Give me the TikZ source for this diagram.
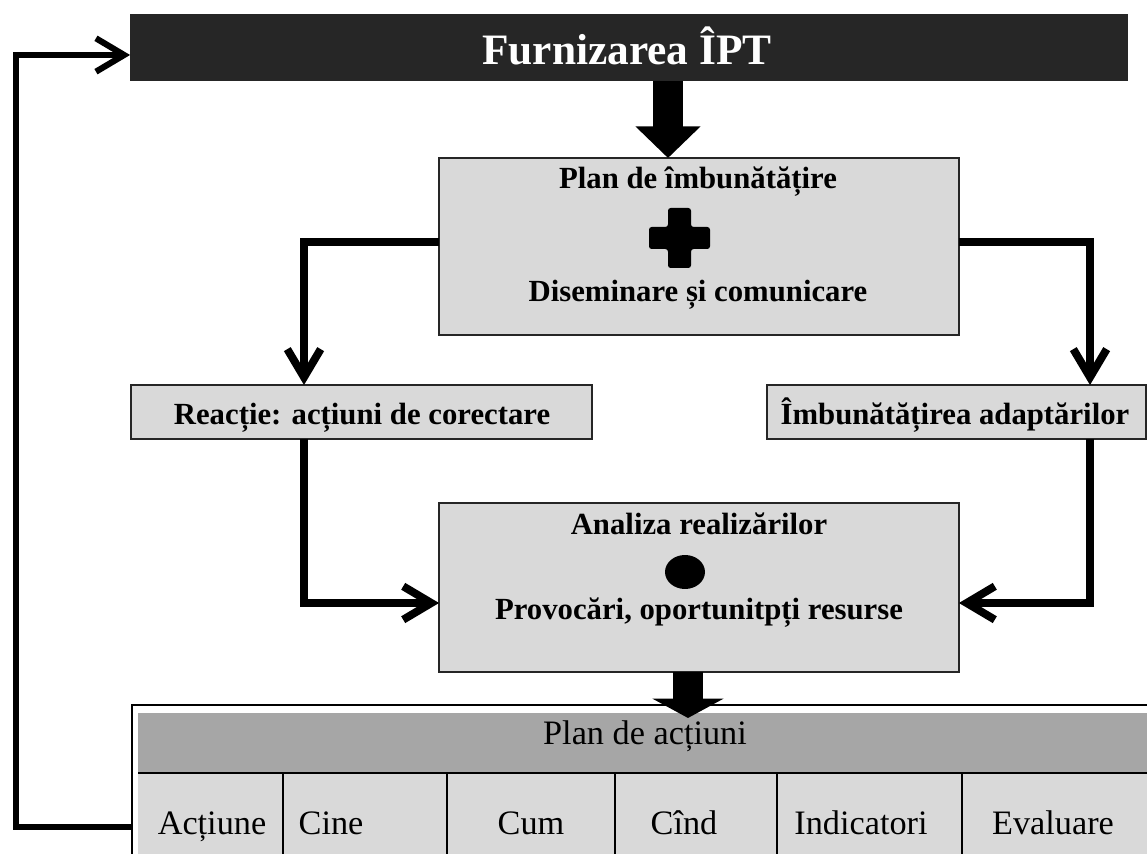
\documentclass[tikz,border=0pt]{standalone}
\usepackage{fontspec}
\setmainfont{Liberation Serif}
\usepackage{xcolor}
\usetikzlibrary{calc,positioning,arrows.meta}

\definecolor{boxgray}{HTML}{D9D9D9}
\definecolor{headgray}{HTML}{A6A6A6}
\definecolor{bardark}{HTML}{262626}

\newcommand{\boxfnt}{\fontsize{17.5}{21}\selectfont\bfseries}
\newcommand{\cellfnt}{\fontsize{19.5}{23}\selectfont}

\tikzset{
  box/.style={draw=black!85, line width=0.8pt, fill=boxgray, inner sep=0pt, outer sep=0pt},
  btext/.style={font=\boxfnt, inner sep=0pt, anchor=base},
  ctext/.style={font=\cellfnt, inner sep=0pt, anchor=base},
  conn/.style={line width=4.5pt, -{Straight Barb[length=16pt,width=19pt]}},
  blockarrow/.style={line width=17.6pt, -{Triangle[length=18pt,width=36pt]}},
}

\begin{document}
\begin{tikzpicture}[x=0.02cm,y=-0.02cm]
\useasboundingbox (0,0) rectangle (1147,854);

%Top bar
\node[fill=bardark, minimum width=19.96cm, minimum height=1.34cm, inner sep=0pt, outer sep=0pt] (bar) at (629,47.5) {};
\node[font=\fontsize{24.7}{28}\selectfont\bfseries, text=white, anchor=base, inner sep=0pt] (barText) at (627,65) {Furnizarea ÎPT};

%Boxes
\node[box, minimum width=10.4cm, minimum height=3.54cm] (plan) at (699,246.5) {};
\node[btext] (planTop) at (698,189) {Plan de îmbunătățire};
\node[btext] (planBot) at (698,302) {Diseminare și comunicare};
\fill[rounded corners=1.5pt] (668,208) -- (691,208) -- (691,227) -- (710,227) -- (710,249) -- (691,249)
  -- (691,268) -- (668,268) -- (668,249) -- (649,249) -- (649,227) -- (668,227) -- cycle;

\node[box, minimum width=9.22cm, minimum height=1.08cm] (react) at (361.5,412) {};
\node[btext] (reactText) at (362,425) {Reacție: acțiuni de corectare};
\node[box, minimum width=7.58cm, minimum height=1.08cm] (adapt) at (956.5,412) {};
\node[btext] (adaptText) at (955,425) {Îmbunătățirea adaptărilor};

\node[box, minimum width=10.4cm, minimum height=3.38cm] (anal) at (699,587.5) {};
\node[btext] (analTop) at (699,535) {Analiza realizărilor};
\fill (685,572) ellipse (0.4cm and 0.34cm);
\node[btext] (analBot) at (699,620) {Provocări, oportunitpți resurse};

%Table
\node[draw, line width=1pt, minimum width=20.4cm, minimum height=3.5cm, inner sep=0pt, outer sep=0pt, anchor=north west] (tbl) at (132,705) {};
\node[fill=headgray, minimum width=20.18cm, minimum height=1.2cm, inner sep=0pt, outer sep=0pt, anchor=north west] (hdr) at (138,713) {};
\fill[boxgray] (138,773) rectangle (1147,860);
\draw[line width=0.8pt] (138,773) -- (1147,773);
\foreach \cx in {283,447,615,777,962}
  \draw[line width=0.8pt] (\cx,773) -- (\cx,860);
\node[ctext] (hdrText) at (645,745) {Plan de acțiuni};
\foreach \name/\cx/\txt in {c1/212/Acțiune, c2/331/Cine, c3/531/Cum, c4/684/Cînd, c5/861/Indicatori, c6/1053/Evaluare}
  \node[ctext] (\name) at (\cx,835) {\txt};

%Connectors
\coordinate (lx) at (304,0);
\coordinate (rx) at (1090,0);
\coordinate (fy) at (0,242);
\coordinate (ly) at (0,603);
\draw[conn] (plan.west |- fy) -| (react.north -| lx);
\draw[conn] (plan.east |- fy) -| (adapt.north -| rx);
\draw[conn] (react.south -| lx) |- (anal.west |- ly);
\draw[conn] (adapt.south -| rx) |- (anal.east |- ly);

%Block arrows
\coordinate (tx) at (668,0);
\coordinate (bx) at (688,0);
\draw[blockarrow] (bar.south -| tx) -- (plan.north -| tx);
\path (hdr.north -| bx) ++(0,5) coordinate (bt);
\draw[blockarrow, -{Triangle[length=11pt,width=40pt]}] (anal.south -| bx) -- (bt);

%Feedback loop
\coordinate (fbot) at (16,827);
\coordinate (ftop) at (0,55);
\draw[conn, line width=3.5pt] (tbl.west |- fbot) -- (fbot) |- (bar.west |- ftop);

\end{tikzpicture}
\end{document}
